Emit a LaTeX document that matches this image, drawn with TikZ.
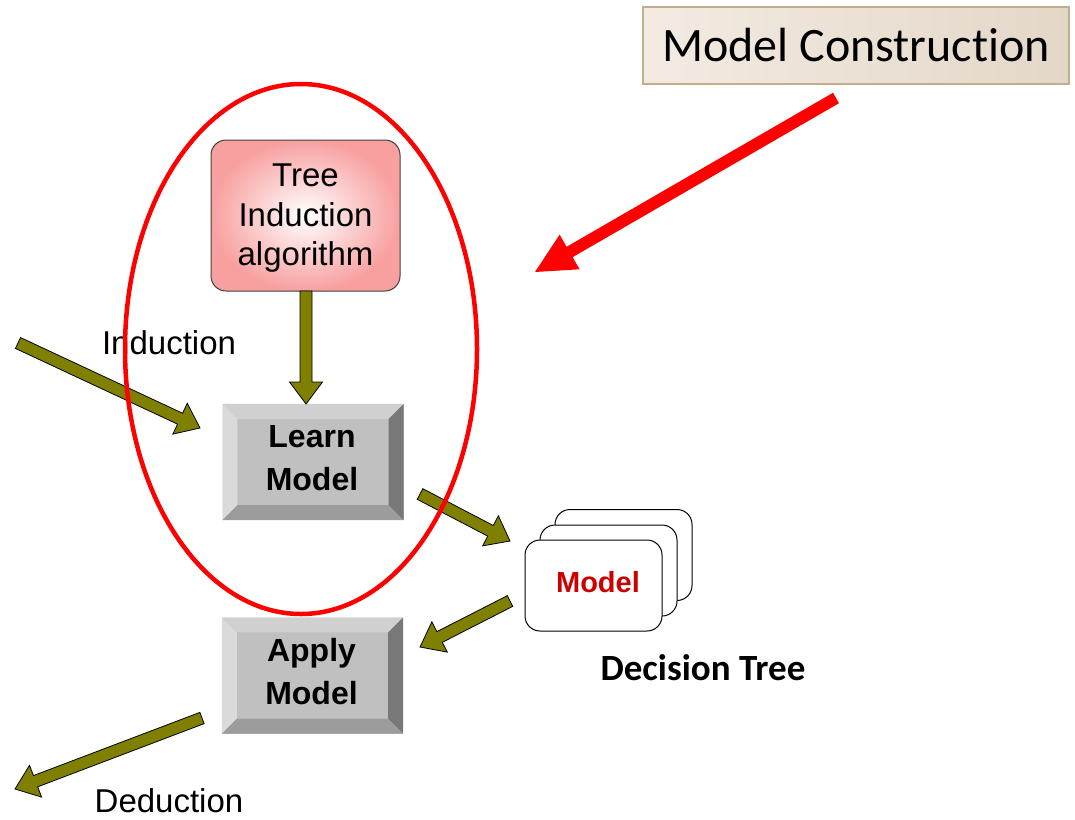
\documentclass[tikz,border=0pt]{standalone}
\usepackage{fontspec}
\setmainfont{Liberation Sans}
\newfontfamily\calfont[Ligatures={CommonOff,ContextualOff}]{Carlito}
\usetikzlibrary{calc,shapes.geometric}
\definecolor{olv}{HTML}{808000}
\definecolor{pinkout}{HTML}{F8A0A0}
\definecolor{beigeL}{HTML}{F3EBE2}
\definecolor{beigeR}{HTML}{E3D7C8}
\definecolor{beigeB}{HTML}{C4AD8A}
\definecolor{bvTop}{HTML}{D0D0D0}
\definecolor{bvLeft}{HTML}{DADADA}
\definecolor{bvIn}{HTML}{C0C0C0}
\definecolor{bvRight}{HTML}{787878}
\definecolor{bvBot}{HTML}{9C9C9C}
\definecolor{mred}{HTML}{CC0000}
\newcommand\fatarrow[6]{%
  \coordinate (hb) at ($(#3)!#6!(#2)$);
  \path[#1] ($(#2)!#4!90:(#3)$) -- ($(hb)!#4!90:(#3)$) -- ($(hb)!#5!90:(#3)$) -- (#3)
    -- ($(hb)!#5!-90:(#3)$) -- ($(hb)!#4!-90:(#3)$) -- ($(#2)!#4!-90:(#3)$) -- cycle;
}
\newcommand\bevel[1]{%
  \fill[bvTop] (#1.north west) -- (#1.north east) -- ($(#1.north east)+(-15,15)$) -- ($(#1.north west)+(15,15)$) -- cycle;
  \fill[bvLeft] (#1.north west) -- ($(#1.north west)+(15,15)$) -- ($(#1.south west)+(15,-15)$) -- (#1.south west) -- cycle;
  \fill[bvRight] (#1.north east) -- ($(#1.north east)+(-15,15)$) -- ($(#1.south east)+(-15,-15)$) -- (#1.south east) -- cycle;
  \fill[bvBot] (#1.south west) -- ($(#1.south west)+(15,-15)$) -- ($(#1.south east)+(-15,-15)$) -- (#1.south east) -- cycle;
}
\tikzset{
  olvarrow/.style={fill=olv, draw=black, line width=0.8pt, line join=miter},
  redarrow/.style={fill=red},
  bevelbox/.style={rectangle, fill=bvIn, minimum width=181pt, minimum height=116pt, inner sep=0pt},
  beveltext/.style={inner sep=0pt, align=center, font=\fontsize{32}{43}\selectfont\bfseries},
  card/.style={rectangle, rounded corners=15pt, draw=black, line width=1pt, fill=white,
    minimum width=137pt, minimum height=91pt, inner sep=0pt},
  plain/.style={inner sep=0pt, font=\fontsize{33}{39.5}\selectfont}
}
\begin{document}
\begin{tikzpicture}[x=1pt,y=-1pt]
\useasboundingbox (0,0) rectangle (1075,819);
% Model Construction
\node[rectangle, draw=beigeB, line width=2pt, left color=beigeL, right color=beigeR,
  minimum width=426pt, minimum height=77pt, inner sep=0pt,
  font=\calfont\fontsize{48}{50}\selectfont] (mc) at (856,45.5) {Model Construction};
% Tree induction algorithm
\node[rectangle, rounded corners=15pt, draw=black!75, line width=1pt,
  inner color=white, outer color=pinkout, minimum width=189pt, minimum height=151pt,
  inner sep=0pt] (tree) at (305.5,215.5) {};
\node[inner sep=0pt, align=center, font=\fontsize{33}{39.5}\selectfont] (treeT) at (305.5,218.5)
  {Tree\\Induction\\algorithm};
% Learn / Apply boxes
\node[bevelbox] (learn) at (313,462) {};
\bevel{learn}
\node[beveltext] (learnT) at (312,458) {Learn\\Model};
\node[bevelbox] (apply) at (312.5,675.5) {};
\bevel{apply}
\node[beveltext] (applyT) at (311.5,672) {Apply\\Model};
% Model cards
\node[card] (card3) at (623.5,555) {};
\node[card] (card2) at (608.5,570.5) {};
\node[card] (card1) at (593.5,585.5) {};
\node[inner sep=0pt, text=mred, font=\fontsize{29}{30}\selectfont\bfseries] (modelT) at (598,582) {Model};
\node[inner sep=0pt, font=\calfont\fontsize{37}{40}\selectfont\bfseries] (dt) at (703,668) {Decision Tree};
% labels
\node[plain] (ind) at (169,343) {Induction};
\node[plain] (ded) at (169,801) {Deduction};
% arrow end points
\coordinate (aS) at (306,291);
\coordinate (aE) at (306,404);
\coordinate (iS) at (18,343);
\coordinate (iE) at (200,428);
\coordinate (lS) at (420,494);
\coordinate (lE) at (510,541);
\coordinate (mS) at (510,601);
\coordinate (mE) at (420,647);
\coordinate (dS) at (202,718);
\coordinate (dE) at (15,789);
\coordinate (rS) at (836,98);
\coordinate (rE) at (535,272);
\fatarrow{olvarrow}{aS}{aE}{6pt}{16.5pt}{22pt}
\fatarrow{olvarrow}{iS}{iE}{6pt}{17pt}{22pt}
\fatarrow{olvarrow}{lS}{lE}{6pt}{17pt}{22pt}
\fatarrow{olvarrow}{mS}{mE}{6pt}{17pt}{22pt}
\fatarrow{olvarrow}{dS}{dE}{6pt}{17pt}{22pt}
\fatarrow{redarrow}{rS}{rE}{6pt}{20pt}{40pt}
% ellipse
\draw[red, line width=4.5pt] (301,349) ellipse [x radius=176pt, y radius=265pt];
\end{tikzpicture}
\end{document}
